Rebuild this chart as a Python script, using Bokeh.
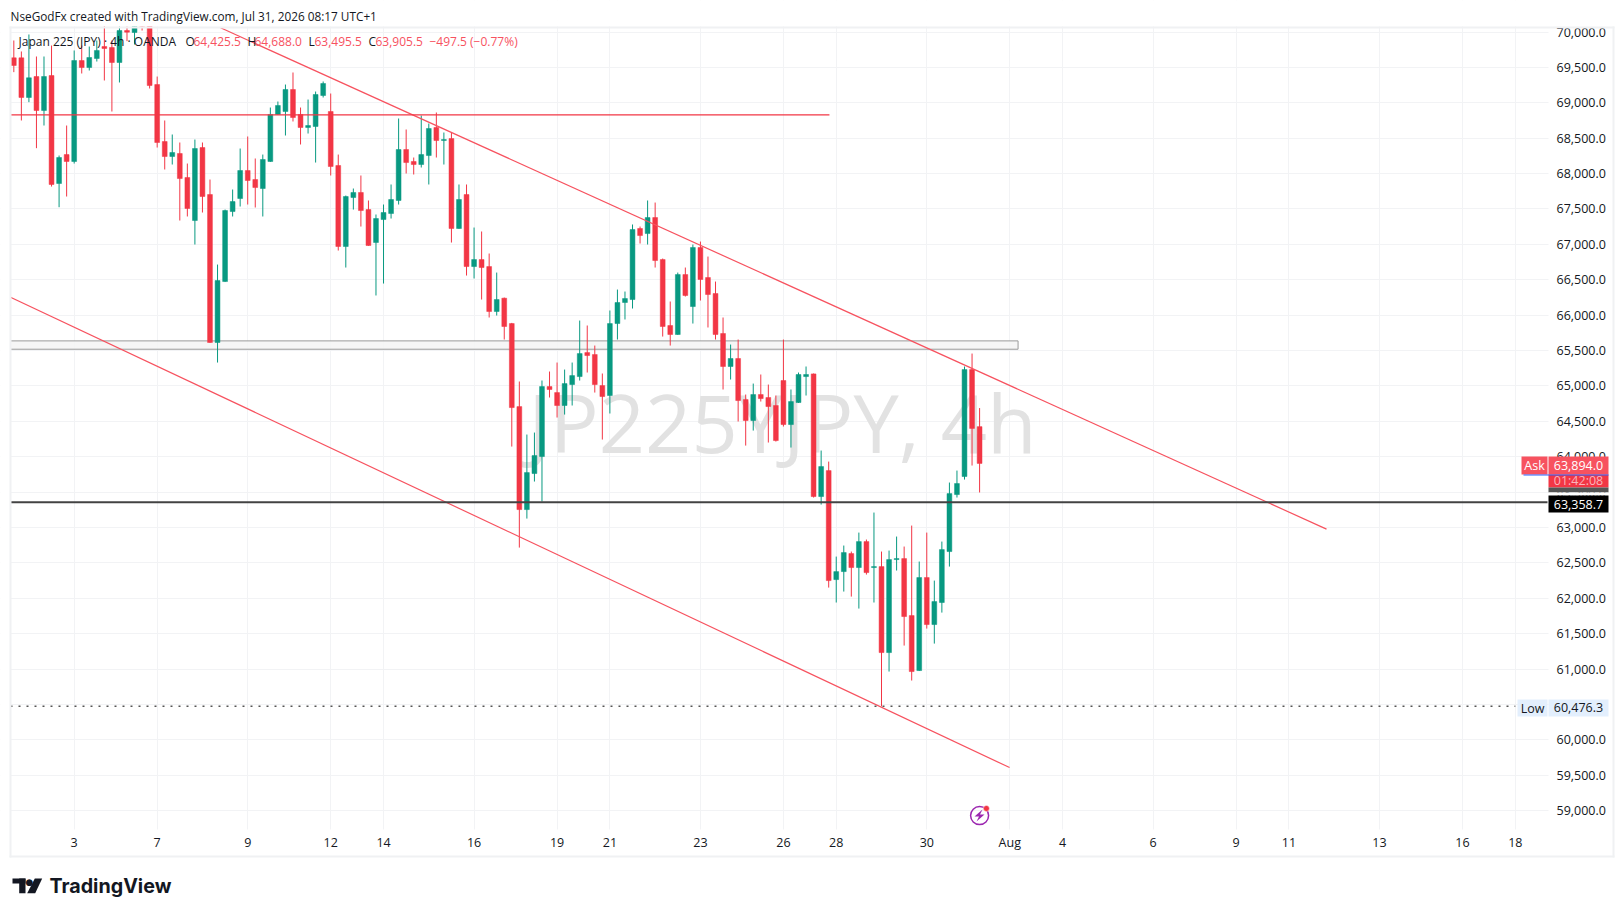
from bokeh.plotting import figure
from bokeh.models import (Range1d, FixedTicker, NumeralTickFormatter, BoxAnnotation, Label,
                          PolyAnnotation, ColumnDataSource, LinearAxis, Grid)
from bokeh.embed import file_html
from bokeh.resources import INLINE

opens = [69635,69635,69075,69371,68891,69385,67860,68269,68171,69597,69498,69626,69795,69781,69569,70021,69993,70200,70350,
         69258,68453,68241,68284,67945,67337,68368,67704,65614,66475,67464,67648,68043,67916,67789,68171,68835,68877,69188,68835,68651,
         68665,69103,68877,68114,66970,67662,67733,67492,67026,67351,67436,67620,68340,68171,68128,68255,68651,68467,68495,67224,
         67704,66687,66786,66687,66052,66240,65882,64709,63254,63763,64003,64992,64907,64724,65020,65133,65472,65444,65006,64865,
         65882,66179,66221,67224,67153,67379,66786,65854,65727,66574,66122,66956,66532,66306,65741,65275,65388,64808,64512,64879,
         64837,64724,65077,64455,64766,65133,65170,63438,63805,62265,62378,62633,62435,62802,62435,62449,61234,62548,62562,61757,
         60980,62294,61630,61941,62661,63466,63721,65232,64425.5]
highs = [69880,69725,69965,69654,69654,69809,68255,68679,69739,69809,69795,69880,70100,69880,70080,70080,70150,70300,70400,
         69371,68750,68552,68439,68142,68481,68439,67916,66715,67492,67775,68354,68524,68213,68269,68933,69018,69258,69428,68933,69046,
         69159,69301,69131,68269,67690,67789,67973,67620,67422,67563,67846,68778,68623,68227,68820,68707,68863,68580,68580,67846,
         67846,67238,67182,66871,66602,66249,65891,65063,64314,64342,65077,65204,65331,65232,65331,65924,65854,65571,65176,66066,
         66362,66334,67281,67252,67620,67591,66800,66193,66602,66673,66998,67040,66828,66475,65967,65585,65656,64879,65034,65162,
         65020,64865,65656,64950,65190,65275,65176,64088,63932,62590,62746,62661,62929,62831,63212,62661,62675,62873,62732,63028,
         62520,62929,62251,62802,63636,63805,65275,65458,64688.0]
lows = [69433,68750,69009,68359,68679,67817,67525,67676,68142,69414,69456,69583,69315,68877,69287,69871,69823,70021,69202,
        68368,68058,68128,67337,67394,66998,67450,65610,65331,66470,67394,67535,67563,67521,67394,68165,68830,68538,68736,68411,68566,
        68156,69075,67973,66913,66673,67492,67252,66980,66278,66447,67365,67563,68001,67987,68086,67846,68227,68128,67026,67220,
        66560,66518,66221,65967,65995,65656,64144,62717,63127,63650,63367,64837,64554,64596,64724,65077,65190,64907,64243,64611,
        65656,65939,66094,67012,66998,66673,65698,65571,65722,66263,65882,66207,65826,65656,64950,65091,64498,64158,64370,64780,
        64201,64215,64427,64130,64760,64865,63424,63325,62152,61941,62096,62025,61856,62336,61941,60476.3,60966,62393,61333,60839,
        60975,61573,61361,61799,62449,63424,63678,63876,63495.5]
closes = [69527,69075,69353,68891,69371,67846,68227,68171,69597,69498,69640,69739,69767,69569,70021,69998,70080,70080,69244,
          68439,68241,68298,67930,67507,68354,67676,65614,66489,67478,67605,68043,67902,67803,68199,68835,68962,69188,68792,68651,68679,
          69117,69272,68100,66970,67676,67733,67478,66984,67365,67450,67634,68340,68156,68128,68269,68637,68467,68481,67224,67634,
          66687,66786,66673,66052,66221,65840,64695,63254,63777,64017,64992,64950,64724,65034,65147,65458,65430,65020,64851,65882,
          66179,66235,67210,67125,67379,66772,65840,65727,66574,66278,66956,66504,66292,65727,65275,65388,64794,64512,64879,64822,
          64709,64229,64455,64780,65162,65162,63438,63862,62251,62378,62647,62435,62802,62364,62449,61234,62548,62562,61743,60966,
          62294,61630,61955,62689,63480,63622,65232,64400,63905.5]

x_tick_bars = [8,19,31,42,49,61,72,79,91,102,109,121,132,139,151,162,169,181,192,199]
x_tick_labels = ["3","7","9","12","14","16","19","21","23","26","28","30","Aug","4","6","9","11","13","16","18"]
y_ticks = [59000,59500,60000,60500,61000,61500,62000,62500,63000,63500,64000,64500,65000,65500,66000,66500,67000,67500,68000,68500,69000,69500,70000]

upper_x = [27.4, 173.98]
upper_y = [70059, 62978]
lower_x = [-0.44, 131.97]
lower_y = [66254, 59610]
res_x = [-0.44, 108.1]
res_y = [68830, 68830]
zone_left, zone_right, zone_top, zone_bottom = -0.44, 133.1, 65637, 65519
last_line = 63358.7
low_line = 60476.3
low_x = [-0.44, 199]
event_x, event_y = [128.0], [58932]
event_dot_x, event_dot_y = [128.9], [59032]
chart_left, chart_right, chart_top, chart_bottom = -0.44, 203.27, 70064, 58749

GREEN = "#089981"
RED = "#f23645"
FONT = "Open Sans"
TXT = "#131722"

# the frame fills the canvas so that header, logo and price tags can be drawn anywhere
p = figure(width=1615, height=900, output_backend="svg", toolbar_location=None,
           x_range=Range1d(-1.765, 212.28), y_range=Range1d(57732, 70445),
           x_axis_location=None, y_axis_location=None,
           min_border_left=0, min_border_right=0, min_border_top=0, min_border_bottom=0)
p.outline_line_color = None
p.background_fill_color = "white"
p.border_fill_color = "white"
p.grid.visible = False

ax = LinearAxis(fixed_location=chart_bottom)
ax.ticker = FixedTicker(ticks=x_tick_bars)
ax.major_label_overrides = dict(zip(x_tick_bars, x_tick_labels))
ax.axis_line_color = None
ax.major_tick_line_color = None
ax.minor_tick_line_color = None
ax.major_tick_out = 0
ax.major_tick_in = 0
ax.major_label_standoff = 5
ax.major_label_text_font = FONT
ax.major_label_text_font_size = "12.5px"
ax.major_label_text_color = TXT
p.add_layout(ax, "below")

ay = LinearAxis(fixed_location=chart_right)
ay.ticker = FixedTicker(ticks=y_ticks)
ay.formatter = NumeralTickFormatter(format="0,0.0")
ay.axis_line_color = None
ay.major_tick_line_color = None
ay.minor_tick_line_color = None
ay.major_tick_out = 0
ay.major_tick_in = 0
ay.major_label_standoff = 9
ay.major_label_text_font = FONT
ay.major_label_text_font_size = "12.5px"
ay.major_label_text_color = TXT
p.add_layout(ay, "right")

p.add_layout(Grid(dimension=0, ticker=FixedTicker(ticks=x_tick_bars), bounds=(chart_bottom, chart_top),
                  grid_line_color="#f2f3f5"))
p.add_layout(Grid(dimension=1, ticker=FixedTicker(ticks=y_ticks), bounds=(chart_left, chart_right),
                  grid_line_color="#f2f3f5"))


def box(l, t, r, b, color, level="overlay"):
    p.add_layout(BoxAnnotation(left=l, right=r, top=t, bottom=b,
                               left_units="canvas", right_units="canvas",
                               top_units="canvas", bottom_units="canvas",
                               fill_color=color, fill_alpha=1, line_alpha=0, line_width=0,
                               level=level))


def label(x, y, text, color=TXT, size="13px", align="left", font=FONT, style="normal", level="overlay"):
    p.add_layout(Label(x=x, y=y, x_units="canvas", y_units="canvas", text=text,
                       text_color=color, text_font_size=size, text_align=align,
                       text_baseline="middle", text_font=font, text_font_style=style, level=level))


def poly(xs, ys, color):
    p.add_layout(PolyAnnotation(xs=xs, ys=ys, xs_units="canvas", ys_units="canvas",
                                fill_color=color, fill_alpha=1, line_alpha=0, level="overlay"))


# white masks that stop the grid at the chart area, drawn below the axes
box(0, 829, 1615, 900, "white", level="underlay")
box(1548, 0, 1615, 900, "white", level="underlay")
box(0, 0, 10, 900, "white", level="underlay")

# watermark behind the candles
label(782, 421, "JP225YJPY, 4h", color="#e2e2e2", size="81px", align="center", level="underlay")

# zone below candles
p.quad(left=[zone_left], right=[zone_right], top=[zone_top], bottom=[zone_bottom],
       fill_color="#f4f4f4", fill_alpha=0.85, line_color="#9a9a9a", line_width=1)

# candles
n = len(opens)
idx = list(range(n))
cols = [GREEN if c >= o else RED for o, c in zip(opens, closes)]
src = ColumnDataSource(dict(x=idx, o=opens, h=highs, l=lows, c=closes, col=cols,
                            top=[max(a, b) for a, b in zip(opens, closes)],
                            bot=[min(a, b) for a, b in zip(opens, closes)]))
p.segment(x0="x", x1="x", y0="l", y1="h", line_color="col", line_width=1, source=src)
p.vbar(x="x", width=0.64, top="top", bottom="bot", fill_color="col", line_color="col", line_width=0.5, source=src)

# drawings
p.line(upper_x, upper_y, line_color="#f7525f", line_width=1.2)
p.line(lower_x, lower_y, line_color="#f7525f", line_width=1.2)
p.line(res_x, res_y, line_color=RED, line_width=1.2)
p.line([chart_left, chart_right], [last_line, last_line], line_color="#434343", line_width=2)
p.line(low_x, [low_line, low_line], line_color="#555555", line_width=1.5, line_dash="2 6")

# event marker
p.scatter(event_x, event_y, size=18, marker="circle", fill_alpha=0, line_color="#9c27b0", line_width=1.5)
p.scatter(event_dot_x, event_dot_y, size=6, marker="circle", fill_color=RED, line_color="white", line_width=0.5)
poly([974, 982, 979.5, 984, 976, 978.5], [816, 809, 814, 814, 821, 816], "#9c27b0")

# frame bands and cover
box(0, 0, 1615, 26, "white")
box(9, 26, 1614, 28, "#f0f1f3")
box(9, 26, 11, 857, "#f0f1f3")
box(1612, 26, 1614, 857, "#f0f1f3")
box(9, 855, 1614, 857, "#f0f1f3")

# header
label(10, 15, "NseGodFx created with TradingView.com, Jul 31, 2026 08:17 UTC+1", size="11.8px")

# legend
VAL = "#f7525f"
label(18, 41, "Japan 225 (JPY) · 4h · OANDA", size="12px")
for xl, letter, xv, val in [(185, "O", 193, "64,425.5"), (247, "H", 254, "64,688.0"),
                            (308, "L", 314, "63,495.5"), (368, "C", 375, "63,905.5")]:
    label(xl, 41, letter, size="12px")
    label(xv, 41, val, color=VAL, size="12px")
label(429, 41, "−497.5 (−0.77%)", color=VAL, size="12px")

# price tags
box(1521, 456, 1547, 474, "#f7525f")
label(1534, 465, "Ask", color="white", size="12.5px", align="center")
box(1548, 456, 1608, 474, "#f7525f")
label(1578, 465, "63,894.0", color="white", size="12.5px", align="center")
box(1548, 474, 1608, 487, RED)
label(1578, 480, "01:42:08", color="#fbb3ba", size="12.5px", align="center")
box(1523, 474, 1608, 475, "#2962ff")
box(1548, 487, 1608, 492, "#555555")
box(1548, 492, 1608, 495, "white")
box(1548, 495, 1608, 512, "#000000")
label(1578, 503.5, "63,358.7", color="white", size="12.5px", align="center")
box(1517, 699, 1547, 716, "#e3effd")
label(1532, 708, "Low", size="12.5px", align="center")
box(1548, 699, 1608, 716, "#e3effd")
label(1578, 707, "60,476.3", size="12.5px", align="center")

# logo
LOGO = "#131722"
box(12, 878, 25, 883, LOGO)
box(18.7, 878, 25, 892.7, LOGO)
poly([34.3, 41.7, 34.7, 26.7], [878, 878, 892.7, 892.7], LOGO)
label(29, 881, "●", color=LOGO, size="9px", align="center", font="DejaVu Sans")
label(49, 885, "TradingView", color=LOGO, size="19.7px", font="Inter", style="bold")

open("out.html", "w").write(file_html(p, INLINE))
